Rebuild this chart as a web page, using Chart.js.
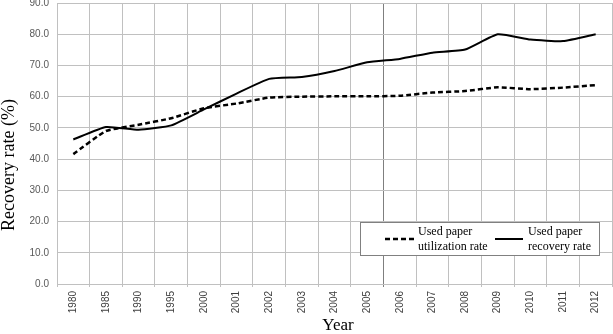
<!DOCTYPE html>
<html>
<head>
<meta charset="utf-8">
<script src="https://cdn.jsdelivr.net/npm/chart.js@4"></script>
<style>
  html, body { margin: 0; padding: 0; background: #ffffff; }
  #wrap { width: 613px; height: 334px; position: relative; }
</style>
</head>
<body>
<div id="wrap"><canvas id="c" width="613" height="334"></canvas></div>
<script>
const years = ['1980','1985','1990','1995','2000','2001','2002','2003','2004','2005','2006','2007','2008','2009','2010','2011','2012'];
const utilizationRate = [41.6, 49.0, 51.0, 53.1, 56.3, 57.8, 59.7, 60.0, 60.1, 60.1, 60.3, 61.3, 61.8, 63.0, 62.4, 62.9, 63.7];
const recoveryRate = [46.3, 50.3, 49.4, 50.8, 55.9, 61.0, 65.7, 66.3, 68.2, 71.0, 72.1, 74.1, 75.1, 80.0, 78.3, 77.8, 80.0];
const seriesLabels = [['Used paper', 'utilization rate'], ['Used paper', 'recovery rate']];
const yTitle = 'Recovery rate (%)';
const xTitle = 'Year';

const serif = "'Liberation Serif', 'Times New Roman', serif";
const sans = "'Liberation Sans', Arial, sans-serif";

const titlesAndLegend = {
  id: 'titlesAndLegend',
  afterDraw(chart) {
    const ctx = chart.ctx;
    ctx.save();
    ctx.fillStyle = '#000';
    ctx.font = '18px ' + serif;
    ctx.textAlign = 'center';
    ctx.textBaseline = 'middle';
    ctx.save();
    ctx.translate(9, 165);
    ctx.rotate(-Math.PI / 2);
    ctx.fillText(yTitle, 0, 0);
    ctx.restore();
    ctx.font = '17px ' + serif;
    ctx.fillText(xTitle, 338, 326);

    const bx = 360.5, by = 222.5, bw = 239, bh = 33;
    ctx.fillStyle = '#fff';
    ctx.fillRect(bx, by, bw, bh);
    ctx.strokeStyle = '#808080';
    ctx.lineWidth = 1;
    ctx.strokeRect(bx, by, bw, bh);

    const ds = chart.data.datasets;
    const samples = [{x0: 385, x1: 415, tx: 418}, {x0: 495, x1: 523, tx: 528}];
    samples.forEach((s, i) => {
      const d = ds[i];
      ctx.beginPath();
      ctx.strokeStyle = d.borderColor;
      ctx.lineWidth = d.borderWidth;
      ctx.setLineDash(d.borderDash || []);
      ctx.moveTo(s.x0, 239);
      ctx.lineTo(s.x1, 239);
      ctx.stroke();
      ctx.setLineDash([]);
      ctx.fillStyle = '#000';
      ctx.font = '12px ' + serif;
      ctx.textAlign = 'left';
      ctx.textBaseline = 'middle';
      ctx.fillText(seriesLabels[i][0], s.tx, 232);
      ctx.fillText(seriesLabels[i][1], s.tx, 247);
    });
    ctx.restore();
  }
};

new Chart(document.getElementById('c'), {
  type: 'line',
  data: {
    labels: years,
    datasets: [
      {
        label: seriesLabels[0].join(' '),
        data: utilizationRate,
        borderColor: '#000',
        borderWidth: 2.5,
        borderDash: [5, 3],
        pointRadius: 0,
        tension: 0.15,
        fill: false
      },
      {
        label: seriesLabels[1].join(' '),
        data: recoveryRate,
        borderColor: '#000',
        borderWidth: 2,
        pointRadius: 0,
        tension: 0.15,
        fill: false
      }
    ]
  },
  options: {
    responsive: false,
    animation: false,
    devicePixelRatio: 1,
    layout: { padding: { top: 3, right: 1, left: 0, bottom: 0 } },
    plugins: {
      legend: { display: false },
      tooltip: { enabled: false },
      title: { display: false }
    },
    scales: {
      x: {
        type: 'category',
        offset: true,
        grid: {
          offset: true,
          color: (c) => (c.index === 10 ? '#7f7f7f' : '#c0c0c0'),
          lineWidth: 1,
          drawTicks: true,
          tickLength: 3
        },
        border: { color: '#c0c0c0' },
        ticks: {
          minRotation: 90,
          maxRotation: 90,
          autoSkip: false,
          padding: 4,
          color: '#404040',
          font: { family: sans, size: 10 }
        },
        afterFit: (s) => { s.height = 50; }
      },
      y: {
        min: 0,
        max: 90,
        grid: { color: '#c0c0c0', drawTicks: false },
        border: { color: '#c0c0c0' },
        ticks: {
          stepSize: 10,
          padding: 8,
          color: '#595959',
          font: { family: sans, size: 10 },
          callback: (v) => Number(v).toFixed(1)
        },
        afterFit: (s) => { s.width = 57; s.paddingTop = 0; s.paddingBottom = 0; }
      }
    }
  },
  plugins: [titlesAndLegend]
});
</script>
</body>
</html>
